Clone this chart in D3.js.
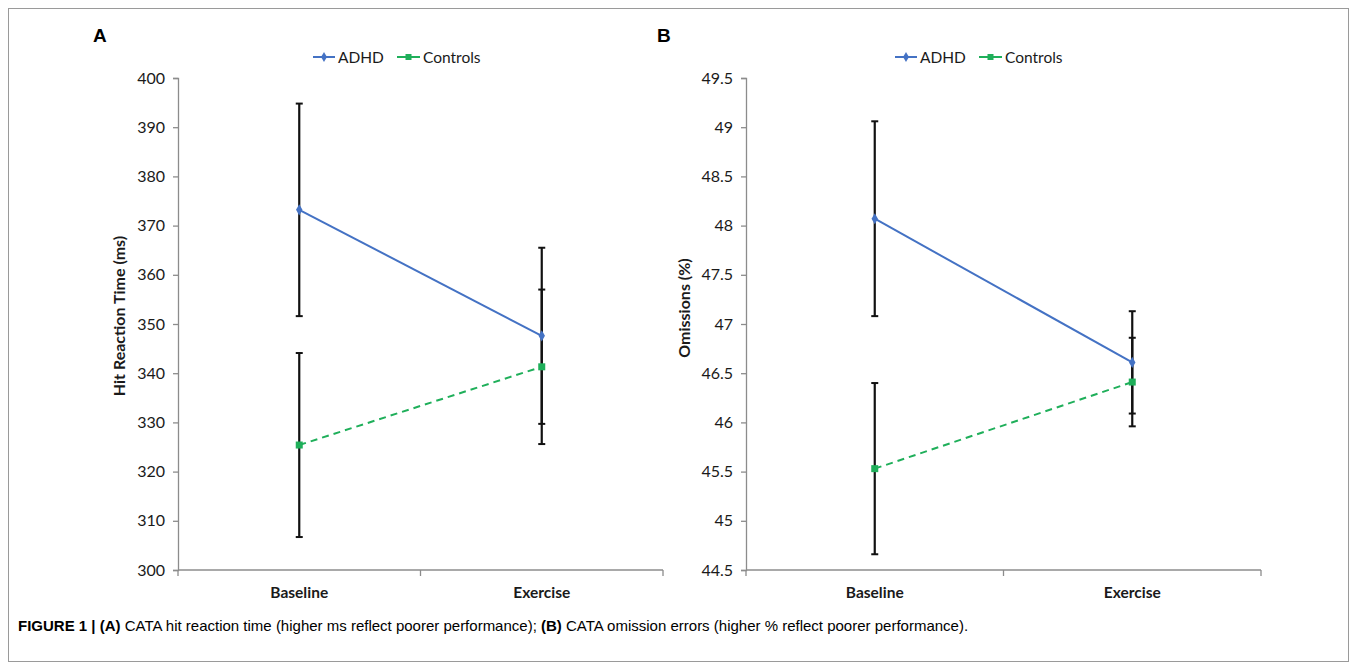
<!DOCTYPE html>
<html><head><meta charset="utf-8">
<script src="https://cdn.jsdelivr.net/npm/d3@7"></script>
<style>
html,body{margin:0;padding:0;background:#fff;}
svg{display:block;}
</style></head>
<body>
<svg id="chart" width="1357" height="670"></svg>
<script>
const categories = ["Baseline", "Exercise"];
const seriesNames = ["ADHD", "Controls"];
// Panel A: hit reaction time (ms)
const rtADHD = [373.2, 347.6];
const rtADHDErr = [21.6, 17.9];
const rtControls = [325.4, 341.3];
const rtControlsErr = [18.7, 15.7];
const rtTicks = [300, 310, 320, 330, 340, 350, 360, 370, 380, 390, 400];
// Panel B: omissions (%)
const omADHD = [48.07, 46.61];
const omADHDErr = [0.99, 0.52];
const omControls = [45.53, 46.41];
const omControlsErr = [0.87, 0.45];
const omTicks = [44.5, 45, 45.5, 46, 46.5, 47, 47.5, 48, 48.5, 49, 49.5];

const svg = d3.select("#chart");
const blue = "#4472C4", green = "#1FAF5A", axisCol = "#8c8c8c";
const font = "Lato, 'Open Sans', sans-serif";

svg.append("rect").attr("x", 8.5).attr("y", 8.5).attr("width", 1340).attr("height", 653)
  .attr("fill", "none").attr("stroke", "#9a9a9a").attr("stroke-width", 1);

function panel(opt) {
  const g = svg.append("g");
  const x = d3.scaleBand().domain(categories).range([opt.x0, opt.x1]);
  const y = d3.scaleLinear().domain([opt.ticks[0], opt.ticks[opt.ticks.length - 1]]).range([570, 78]);
  const cx = c => x(c) + x.bandwidth() / 2;

  // y axis
  const ya = g.append("g").attr("transform", `translate(${opt.x0},0)`)
    .call(d3.axisLeft(y).tickValues(opt.ticks).tickSize(5).tickPadding(8).tickFormat(opt.fmt));
  ya.select(".domain").attr("stroke", axisCol).attr("stroke-width", 1.3);
  ya.selectAll(".tick line").attr("stroke", axisCol).attr("stroke-width", 1.3);
  ya.selectAll(".tick text").attr("font-family", font).attr("font-size", 16).attr("fill", "#1a1a1a");

  // x axis
  const xa = g.append("g").attr("transform", "translate(0,570)")
    .call(d3.axisBottom(x).tickSize(0).tickPadding(17));
  xa.select(".domain").attr("stroke", axisCol).attr("stroke-width", 1.3)
    .attr("d", `M${opt.x0},0H${opt.x1}`);
  xa.selectAll(".tick text").attr("font-family", font).attr("font-size", 15.5).attr("font-weight", 700).attr("fill", "#1a1a1a");
  const bounds = [opt.x0, x(categories[1]), opt.x1];
  g.selectAll(".xtk").data(bounds).enter().append("line")
    .attr("x1", d => d).attr("x2", d => d).attr("y1", 570).attr("y2", 576)
    .attr("stroke", axisCol).attr("stroke-width", 1.3);

  // axis title
  g.append("text").attr("transform", `translate(${opt.titleX},${opt.titleY}) rotate(-90)`)
    .attr("text-anchor", "middle").attr("font-family", font).attr("font-size", 16)
    .attr("font-weight", 700).attr("fill", "#1a1a1a").text(opt.title);

  // error bars
  const series = [
    {name: seriesNames[0], vals: opt.a, err: opt.ae, color: blue, dash: null},
    {name: seriesNames[1], vals: opt.c, err: opt.ce, color: green, dash: "7,5"}
  ];
  series.forEach(s => {
    categories.forEach((c, i) => {
      const xx = cx(c), top = y(s.vals[i] + s.err[i]), bot = y(s.vals[i] - s.err[i]);
      g.append("line").attr("x1", xx).attr("x2", xx).attr("y1", top).attr("y2", bot)
        .attr("stroke", "#111").attr("stroke-width", 2.2);
      [top, bot].forEach(yy => g.append("line").attr("x1", xx - 3.5).attr("x2", xx + 3.5)
        .attr("y1", yy).attr("y2", yy).attr("stroke", "#111").attr("stroke-width", 2));
    });
  });
  series.forEach(s => {
    const line = d3.line().x((d, i) => cx(categories[i])).y(d => y(d));
    g.append("path").datum(s.vals).attr("d", line).attr("fill", "none")
      .attr("stroke", s.color).attr("stroke-width", 2)
      .attr("stroke-dasharray", s.dash);
    s.vals.forEach((v, i) => {
      if (s.name === "ADHD") {
        g.append("path").attr("d", d3.symbol(d3.symbolDiamond, 36)())
          .attr("transform", `translate(${cx(categories[i])},${y(v)})`).attr("fill", blue);
      } else {
        g.append("rect").attr("x", cx(categories[i]) - 3.5).attr("y", y(v) - 3.5)
          .attr("width", 7).attr("height", 7).attr("fill", green);
      }
    });
  });

  // legend
  const lg = g.append("g").attr("transform", `translate(${opt.legX},57)`);
  lg.append("line").attr("x1", 0).attr("x2", 22).attr("stroke", blue).attr("stroke-width", 2);
  lg.append("path").attr("d", d3.symbol(d3.symbolDiamond, 30)()).attr("transform", "translate(11,0)").attr("fill", blue);
  lg.append("text").attr("x", 25).attr("y", 5.5).attr("font-family", font).attr("font-size", 15.5).attr("fill", "#1a1a1a").text(seriesNames[0]);
  lg.append("line").attr("x1", 84).attr("x2", 107).attr("stroke", green).attr("stroke-width", 2);
  lg.append("rect").attr("x", 92.5).attr("y", -3).attr("width", 6).attr("height", 6).attr("fill", green);
  lg.append("text").attr("x", 110).attr("y", 5.5).attr("font-family", font).attr("font-size", 15.5).attr("fill", "#1a1a1a").text(seriesNames[1]);

  // panel letter
  svg.append("text").attr("x", opt.letterX).attr("y", 42).attr("font-family", "'Liberation Sans', Arial, sans-serif")
    .attr("font-size", 19).attr("font-weight", 700).attr("fill", "#000").text(opt.letter);
}

panel({x0: 178, x1: 663, ticks: rtTicks, fmt: d3.format("d"), a: rtADHD, ae: rtADHDErr, c: rtControls, ce: rtControlsErr,
  title: "Hit Reaction Time (ms)", titleX: 125, titleY: 316, legX: 313, letter: "A", letterX: 93});
panel({x0: 746, x1: 1261, ticks: omTicks, fmt: d => String(d), a: omADHD, ae: omADHDErr, c: omControls, ce: omControlsErr,
  title: "Omissions (%)", titleX: 690, titleY: 308, legX: 895, letter: "B", letterX: 657});

// caption
const cap = svg.append("text").attr("x", 18).attr("y", 631).attr("font-family", "'Liberation Sans', Arial, sans-serif")
  .attr("font-size", 15).attr("fill", "#000");
cap.append("tspan").attr("font-weight", 700).text("FIGURE 1 | (A)");
cap.append("tspan").text(" CATA hit reaction time (higher ms reflect poorer performance); ");
cap.append("tspan").attr("font-weight", 700).text("(B)");
cap.append("tspan").text(" CATA omission errors (higher % reflect poorer performance).");
</script>
</body></html>
